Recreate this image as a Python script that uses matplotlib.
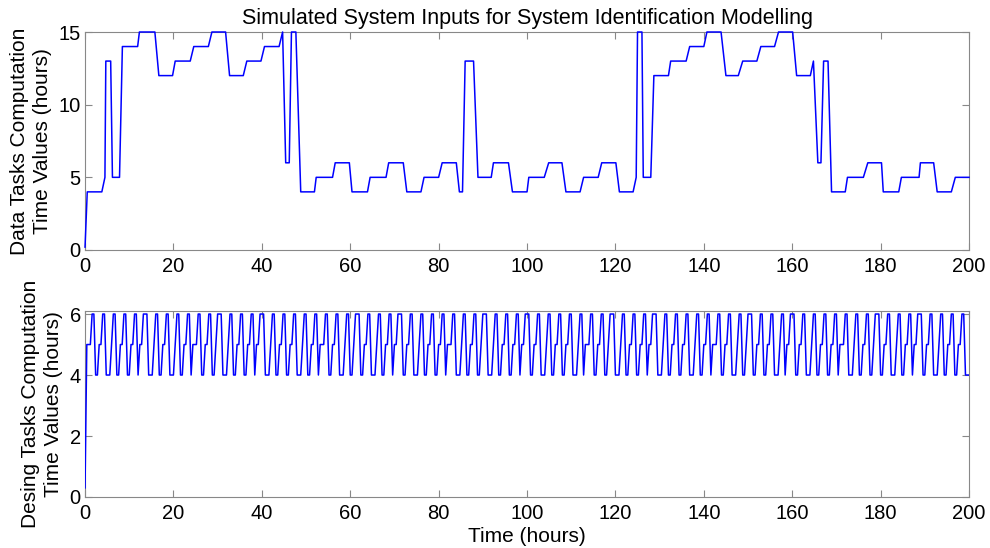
import matplotlib
matplotlib.use("Agg")
import matplotlib.pyplot as plt
import numpy as np

plt.rcParams["font.family"] = ["Liberation Sans", "DejaVu Sans"]

# Data tasks input: breakpoints of the piecewise-linear simulated signal
data_t = [0, 0.5, 3.8, 4.5, 4.7, 5.8, 6.2, 7.8, 8.45, 11.9, 12.3, 15.8,
          16.7, 19.8, 20.4, 23.8, 24.6, 27.9, 28.7, 31.8, 32.7, 35.8, 36.6,
          39.8, 40.6, 43.9, 44.7, 45.4, 46.2, 46.7, 47.7, 48.8, 51.9, 52.3,
          56.0, 56.6, 59.8, 60.4, 63.9, 64.5, 68.1, 68.7, 72.0, 72.8, 76.0,
          76.7, 80.0, 80.8, 84.0, 84.7, 85.4, 86.0, 87.9, 88.9, 91.9, 92.4,
          95.8, 96.7, 100.0, 100.4, 103.9, 104.9, 107.9, 108.8, 112.0, 112.8,
          116.1, 116.9, 120.1, 120.9, 124.0, 124.7, 125.0, 126.0, 126.3, 128.0,
          128.7, 132.0, 132.5, 136.0, 136.8, 140.0, 140.7, 143.9, 145.0, 147.8,
          148.8, 152.0, 152.9, 156.0, 156.9, 160.1, 161.0, 164.1, 164.8, 165.8,
          166.5, 167.1, 168.1, 168.9, 172.0, 172.5, 176.1, 177.1, 180.2, 180.6,
          184.1, 184.7, 188.7, 189.0, 192.0, 192.8, 196.0, 196.9, 200]
data_v = [0.2, 4, 4, 5, 13, 13, 5, 5, 14, 14, 15, 15,
          12, 12, 13, 13, 14, 14, 15, 15, 12, 12, 13,
          13, 14, 14, 15, 6, 6, 15, 15, 4, 4, 5,
          5, 6, 6, 4, 4, 5, 5, 6, 6, 4, 4,
          5, 5, 6, 6, 4, 4, 13, 13, 5, 5, 6,
          6, 4, 4, 5, 5, 6, 6, 4, 4, 5,
          5, 6, 6, 4, 4, 5, 15, 15, 5, 5,
          12, 12, 13, 13, 14, 14, 15, 15, 12, 12,
          13, 13, 14, 14, 15, 15, 12, 12, 13, 6,
          6, 13, 13, 4, 4, 5, 5, 6, 6, 4,
          4, 5, 5, 6, 6, 4, 4, 5, 5]

# Design tasks input: levels sampled every 0.4 h (one digit per sample)
design_dt = 0.4
design_start = 0.3
design_levels = (
    "55566"
    "445566 444566 445566 445566 455666 444566 445566 444566 445566 455566 "
    "445566 445666 444566 445566 445566 455666 444566 445566 445566 444566 "
    "445566 455566 445566 444566 445666 445566 444566 445566 455666 445566 "
    "444566 445566 445566 455566 444566 445566 445666 444566 445566 445566 "
    "455666 445566 444566 445566 445566 444566 455566 445566 445666 444566 "
    "445566 445566 455666 444566 445566 445566 444566 445566 455566 445566 "
    "444566 445666 445566 445566 444566 455666 445566 444566 445566 445566 "
    "455566 444566 445566 445666 445566 444566 445566 455666 445566 444566 "
    "445566 445566 444566"
)

design_v = [design_start] + [int(c) for c in design_levels if c.isdigit()]
design_t = np.arange(len(design_v)) * design_dt
keep = design_t <= 200.0001
design_t = design_t[keep]
design_v = np.array(design_v, dtype=float)[keep]

fig = plt.figure(figsize=(9.9, 5.48), dpi=100)
ax1 = fig.add_axes([0.0859, 0.5438, 0.8929, 0.3978])
ax2 = fig.add_axes([0.0859, 0.0931, 0.8929, 0.3394])

ax1.plot(data_t, data_v, color="#0000ff", lw=1.1, clip_on=False, zorder=3)
ax2.plot(design_t, design_v, color="#0000ff", lw=1.1, zorder=3)

ax1.set_xlim(0, 200)
ax1.set_ylim(0, 15)
ax1.set_yticks([0, 5, 10, 15])
ax2.set_xlim(0, 200)
ax2.set_ylim(0, 6.1)
ax2.set_yticks([0, 2, 4, 6])

for ax in (ax1, ax2):
    ax.set_xticks(np.arange(0, 201, 20))
    for s in ax.spines.values():
        s.set_color("#888888")
        s.set_linewidth(0.8)
    ax.tick_params(direction="in", length=5, width=0.8, color="#888888",
                   top=True, right=True, labelsize=14.5, labelcolor="black")
    ax.tick_params(axis="x", pad=5)
    ax.tick_params(axis="y", pad=3)

ax1.set_title("Simulated System Inputs for System Identification Modelling",
              fontsize=15.5, pad=6)
ax1.set_ylabel("Data Tasks Computation\nTime Values (hours)", fontsize=15,
               labelpad=5, linespacing=1.25)
ax2.set_ylabel("Desing Tasks Computation\nTime Values (hours)", fontsize=15,
               labelpad=5, linespacing=1.25)
ax2.set_xlabel("Time (hours)", fontsize=15, labelpad=3)

fig.savefig("out.png", dpi=100)
